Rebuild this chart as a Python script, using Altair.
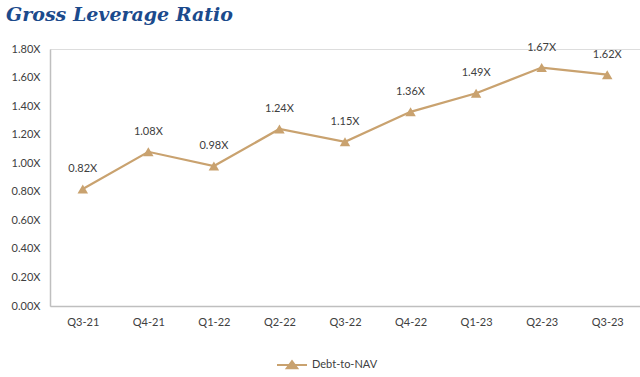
import altair as alt
import pandas as pd

quarters = ["Q3-21", "Q4-21", "Q1-22", "Q2-22", "Q3-22", "Q4-22", "Q1-23", "Q2-23", "Q3-23"]
values = [0.82, 1.08, 0.98, 1.24, 1.15, 1.36, 1.49, 1.67, 1.62]
series = "Debt-to-NAV"

df = pd.DataFrame({"q": quarters, "v": values, "s": [series] * len(quarters)})
df["lab"] = [f"{v:.2f}X" for v in values]

color = "#C9A26F"
font = "Lato"

x = alt.X("q:N", sort=quarters, title=None,
          scale=alt.Scale(paddingInner=0, paddingOuter=0.5),
          axis=alt.Axis(labelAngle=0, ticks=False, labelPadding=10, domainColor="#BFBFBF",
                        domainWidth=1.5, labelFont=font, labelFontSize=11, labelColor="#404040"))
y = alt.Y("v:Q", title=None,
          scale=alt.Scale(domain=[0, 1.8], nice=False),
          axis=alt.Axis(values=[0, 0.2, 0.4, 0.6, 0.8, 1.0, 1.2, 1.4, 1.6, 1.8],
                        labelExpr="format(datum.value, '.2f') + 'X'",
                        grid=False, ticks=False, labelPadding=10, domainColor="#BFBFBF",
                        domainWidth=1.5, labelFont=font, labelFontSize=11, labelColor="#404040"))

base = alt.Chart(df).encode(x=x, y=y)

line = base.mark_line(strokeWidth=2.2, color=color).encode(
    color=alt.Color("s:N", scale=alt.Scale(range=[color]), title=None,
                    legend=alt.Legend(orient="none", legendX=226, legendY=300,
                                      symbolType="M-1,0H1M-0.35,0.22L0,-0.26L0.35,0.22Z",
                                      symbolSize=900, symbolStrokeWidth=2,
                                      symbolFillColor=color, symbolStrokeColor=color,
                                      labelFont=font, labelFontSize=11, labelColor="#404040"))
)
pts = base.mark_point(shape="triangle-up", filled=True, size=110, color=color, opacity=1)
labels = base.mark_text(dy=-20, font=font, fontSize=11, color="#404040").encode(text="lab:N")

chart = alt.layer(line, pts, labels).properties(
    width=590, height=257,
    autosize=alt.AutoSizeParams(type="none"),
    padding={"left": 50, "top": 49, "right": 0, "bottom": 71},
    title=alt.TitleParams("Gross Leverage Ratio", anchor="start", frame="group",
                          font="DejaVu Serif", fontStyle="italic", fontWeight="bold",
                          fontSize=19, color="#1B4A8C", dx=-44, offset=17),
).configure_view(stroke=None).configure(background="white")

chart.save("out.html", embed_options={"renderer": "svg", "actions": False})
